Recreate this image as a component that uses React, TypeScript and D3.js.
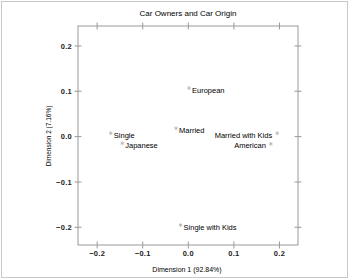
import React, { useEffect } from "react";
import * as d3 from "d3";

const labels = ["Single", "Japanese", "European", "Married", "Married with Kids", "American", "Single with Kids"];
const dim1 = [-0.170, -0.145, 0.0015, -0.027, 0.195, 0.181, -0.017];
const dim2 = [0.0075, -0.0146, 0.107, 0.0185, 0.0075, -0.016, -0.195];
const anchors = ["start", "start", "start", "start", "end", "end", "start"];
const xTicks = [-0.2, -0.1, 0.0, 0.1, 0.2];
const yTicks = [-0.2, -0.1, 0.0, 0.1, 0.2];

const W = 350, H = 280;
const L = 78, R = 298, T = 26, B = 245;
const font = "'Liberation Sans', Arial, sans-serif";

export default function App() {
  useEffect(() => {
    document.body.style.margin = "0";
  }, []);
  const x = d3.scaleLinear().domain([-0.242, 0.2406]).range([L, R]);
  const y = d3.scaleLinear().domain([-0.239, 0.244]).range([B, T]);
  const fmt = (v: number) => (v < 0 ? "\u22120" : "0") + d3.format(".1f")(Math.abs(v)).slice(1);
  const star = d3.symbol(d3.symbolAsterisk, 10)();
  const axisCol = "#9a9a9a";
  const tl = 3.5;
  return (
    <svg width={W} height={H} style={{ position: "absolute", left: 0, top: 0, display: "block" }} fontFamily={font}>
      <rect x={0} y={0} width={W} height={H} fill="#fff" />
      <rect x={1.5} y={1.5} width={346} height={276} fill="none" stroke="#c8c8c8" strokeWidth={1} />
      <text x={(L + R) / 2} y={16} textAnchor="middle" fontSize={8} fill="#000">Car Owners and Car Origin</text>
      <rect x={L} y={T} width={R - L} height={B - T} fill="none" stroke={axisCol} strokeWidth={1} />
      {xTicks.map((t) => (
        <g key={"x" + t}>
          <line x1={x(t)} x2={x(t)} y1={B - tl} y2={B + tl} stroke={axisCol} />
          <line x1={x(t)} x2={x(t)} y1={T - tl} y2={T + tl} stroke={axisCol} />
          <text x={x(t)} y={256} textAnchor="middle" fontSize={7.5} fontWeight="bold" letterSpacing={0.3} fill="#222">{fmt(t)}</text>
        </g>
      ))}
      {yTicks.map((t) => (
        <g key={"y" + t}>
          <line x1={L - tl} x2={L + tl} y1={y(t)} y2={y(t)} stroke={axisCol} />
          <line x1={R - tl} x2={R + tl} y1={y(t)} y2={y(t)} stroke={axisCol} />
          <text x={72} y={y(t) + 2.7} textAnchor="end" fontSize={7.5} fontWeight="bold" letterSpacing={0.3} fill="#222">{fmt(t)}</text>
        </g>
      ))}
      <text x={187} y={272} textAnchor="middle" fontSize={7} fill="#000">Dimension 1 (92.84%)</text>
      <text transform={`translate(51,136) rotate(-90)`} textAnchor="middle" fontSize={6.5} fill="#000">Dimension 2 (7.16%)</text>
      {labels.map((lab, i) => {
        const px = x(dim1[i]);
        const py = y(dim2[i]);
        const start = anchors[i] === "start";
        return (
          <g key={lab}>
            <path d={star} transform={`translate(${px},${py})`} stroke="#b0b0b0" strokeWidth={0.8} fill="none" />
            <text x={start ? px + 3 : px - 5} y={py + 4.5} textAnchor={anchors[i]} fontSize={7.5} fill="#000">{lab}</text>
          </g>
        );
      })}
    </svg>
  );
}
